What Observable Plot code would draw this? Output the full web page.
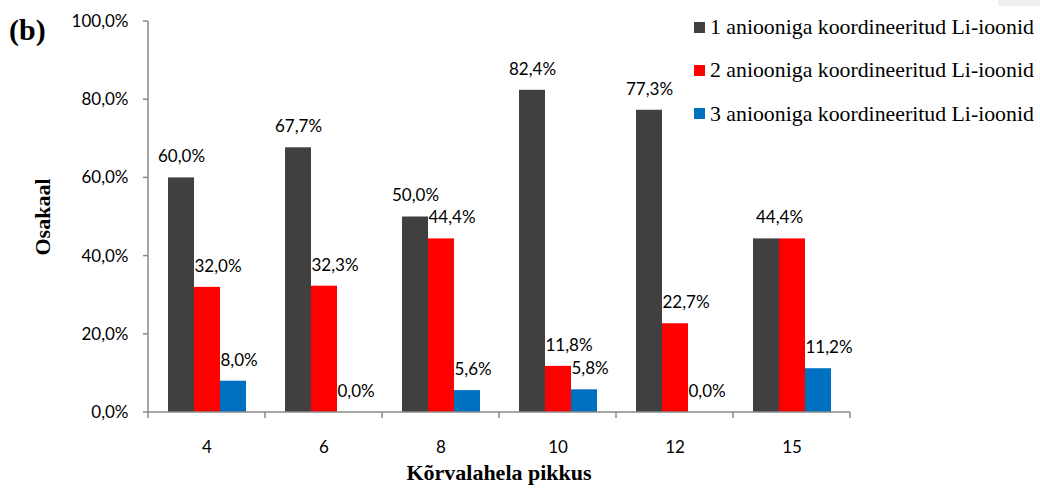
<!DOCTYPE html>
<html><head><meta charset="utf-8">
<script src="https://cdn.jsdelivr.net/npm/d3@7"></script>
<script src="https://cdn.jsdelivr.net/npm/@observablehq/plot@0.6"></script>
<style>
body{margin:0;background:#fff;}
#wrap{position:relative;width:1040px;height:488px;overflow:hidden;background:#fff;}
#wrap svg{position:absolute;left:0;top:0;}
#wrap svg text{font-size:17px !important;font-family:Lato,sans-serif !important;}
.serif{font-family:"Liberation Serif","Times New Roman",serif;position:absolute;color:#000;white-space:nowrap;line-height:1;}
.leg{position:absolute;left:694px;display:flex;align-items:center;height:22px;}
.leg .sw{width:11px;height:11px;margin-right:5px;}
.leg span{font-family:"Liberation Serif","Times New Roman",serif;font-size:21.8px;line-height:22px;color:#000;white-space:nowrap;}
</style></head><body>
<div id="wrap"></div>
<script>
const categories = ["4", "6", "8", "10", "12", "15"];
const seriesNames = [
  "1 aniooniga koordineeritud Li-ioonid",
  "2 aniooniga koordineeritud Li-ioonid",
  "3 aniooniga koordineeritud Li-ioonid"
];
const series1 = [60.0, 67.7, 50.0, 82.4, 77.3, 44.4];
const series2 = [32.0, 32.3, 44.4, 11.8, 22.7, 44.4];
const series3 = [8.0, 0.0, 5.6, 5.8, 0.0, 11.2];
const yTicks = [0, 20, 40, 60, 80, 100];
const colors = ["#404040", "#ff0000", "#0070c0"];
const xTitle = "Kõrvalahela pikkus";
const yTitle = "Osakaal";
const panelTag = "(b)";

const W = 1040, H = 488, ml = 148, mr = 190, mt = 21, mb = 76;
const step = (W - ml - mr) / categories.length;
const barW = step * (2 / 3) / seriesNames.length;

const allSeries = [series1, series2, series3];
const rows = [];
categories.forEach((c, i) => {
  allSeries.forEach((s, k) => {
    rows.push({cat: c, series: seriesNames[k], k, value: s[i],
      dup: k === 1 && s[i] === series1[i]});
  });
});
const fmt = v => v.toFixed(1).replace(".", ",") + "%";

const chart = Plot.plot({
  width: W, height: H,
  marginLeft: ml, marginRight: mr, marginTop: mt, marginBottom: mb,
  style: {fontFamily: "Lato, sans-serif", fontSize: "17px", color: "#000", background: "transparent"},
  facet: {data: rows, x: "cat"},
  fx: {domain: categories, padding: 0, label: null, tickSize: 0, tickPadding: 28, axis: "bottom"},
  x: {domain: seriesNames, paddingInner: 0, paddingOuter: 0.75, axis: null},
  y: {domain: [0, 100], ticks: yTicks, tickFormat: fmt, tickSize: 0, tickPadding: 20, label: null},
  color: {domain: seriesNames, range: colors},
  marks: [
    Plot.barY(rows, {x: "series", y: "value", fill: "series"}),
    Plot.text(rows, {filter: d => d.k === 0 && !rows.some(r => r.cat === d.cat && r.dup),
      x: "series", y: "value", text: d => fmt(d.value), dy: -21, textAnchor: "middle", fill: "#000", fontSize: 17}),
    Plot.text(rows, {filter: d => d.k > 0 && !d.dup,
      x: "series", y: "value", text: d => fmt(d.value), dy: -21, dx: -barW / 2, textAnchor: "start", fill: "#000", fontSize: 17}),
    Plot.text(rows, {filter: d => d.dup,
      x: "series", y: "value", text: d => fmt(d.value), dy: -21, dx: -barW / 2, textAnchor: "middle", fill: "#000", fontSize: 17})
  ]
});

const wrap = document.getElementById("wrap");
wrap.appendChild(chart);

// axis lines and boundary ticks from the plot's scales
const svg = d3.select(chart.tagName.toLowerCase() === "svg" ? chart : chart.querySelector("svg"));
const yS = chart.scale("y");
const y = d3.scaleLinear(yS.domain, yS.range);
const fxS = chart.scale("fx");
const fx = d3.scaleBand(fxS.domain, fxS.range || [ml, W - mr]).padding(0);
const axisG = svg.append("g").attr("stroke", "#8a8a8a").attr("stroke-width", 1.5).attr("fill", "none");
const x0 = fx.range()[0], x1 = fx.range()[1];
axisG.append("line").attr("x1", x0).attr("x2", x0).attr("y1", y(100)).attr("y2", y(0));
axisG.append("line").attr("x1", x0).attr("x2", x1).attr("y1", y(0)).attr("y2", y(0));
yTicks.forEach(t => {
  axisG.append("line").attr("x1", x0 - 5).attr("x2", x0).attr("y1", y(t)).attr("y2", y(t));
});
categories.forEach(c => {
  const xb = fx(c);
  axisG.append("line").attr("x1", xb).attr("x2", xb).attr("y1", y(0)).attr("y2", y(0) + 6);
});
axisG.append("line").attr("x1", x1).attr("x2", x1).attr("y1", y(0)).attr("y2", y(0) + 6);

// titles
const tag = document.createElement("div");
tag.className = "serif";
tag.style.cssText = "left:9px;top:15px;font-size:30px;font-weight:bold;";
tag.textContent = panelTag;
wrap.appendChild(tag);

const xt = document.createElement("div");
xt.className = "serif";
xt.style.cssText = `left:${(x0 + x1) / 2}px;top:462px;font-size:22px;font-weight:bold;transform:translateX(-50%);`;
xt.textContent = xTitle;
wrap.appendChild(xt);

const yt = document.createElement("div");
yt.className = "serif";
yt.style.cssText = `left:42.5px;top:${(y(0) + y(100)) / 2}px;font-size:22px;font-weight:bold;transform:translate(-50%,-50%) rotate(-90deg);`;
yt.textContent = yTitle;
wrap.appendChild(yt);

// legend
seriesNames.forEach((s, k) => {
  const d = document.createElement("div");
  d.className = "leg";
  d.style.top = (27.2 + k * 43.2 - 11) + "px";
  const sw = document.createElement("div");
  sw.className = "sw";
  sw.style.background = colors[k];
  const sp = document.createElement("span");
  sp.textContent = s;
  d.appendChild(sw); d.appendChild(sp);
  wrap.appendChild(d);
});

const corner = document.createElement("div");
corner.style.cssText = "position:absolute;left:998px;top:0;width:42px;height:6px;background:#f0f0f0;";
wrap.appendChild(corner);
</script>
</body></html>
